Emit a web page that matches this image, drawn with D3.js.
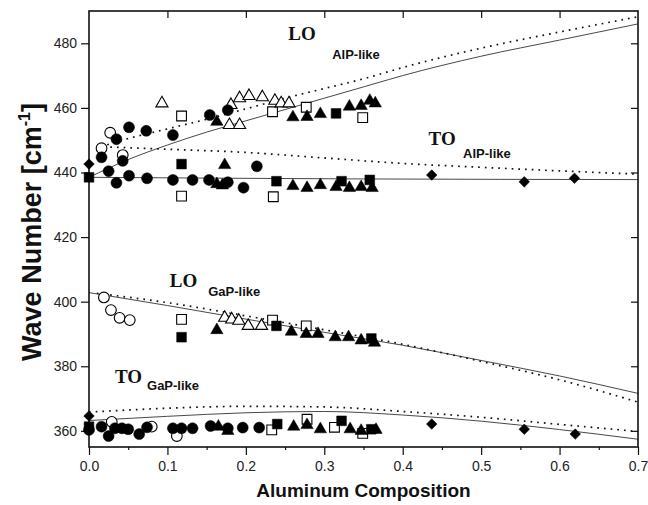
<!DOCTYPE html>
<html>
<head>
<meta charset="utf-8">
<script src="https://cdn.jsdelivr.net/npm/d3@7"></script>
<style>
  body { margin: 0; background: #fff; }
  text { font-family: "Liberation Sans", Arial, sans-serif; }
</style>
</head>
<body>
<div id="svg-container"></div>
<script>

// ---- data -------------------------------------------------------------
// every marker is [aluminum composition, wave number]

var filledCircles = [
    [0.016, 444.7], [0.025, 440.4], [0.035, 450.3], [0.043, 443.6], [0.051, 454.0],
    [0.073, 452.9], [0.107, 451.6], [0.154, 457.8], [0.177, 459.3],
    [0.035, 436.8], [0.051, 439.0], [0.074, 438.2], [0.107, 437.7], [0.132, 437.7],
    [0.153, 437.7], [0.177, 437.0], [0.197, 435.3], [0.214, 441.9],
    [0.000, 360.3], [0.016, 361.3], [0.025, 358.4], [0.033, 360.8], [0.042, 360.8],
    [0.050, 360.5], [0.064, 359.0], [0.074, 361.1], [0.107, 360.8], [0.118, 360.8],
    [0.132, 360.8], [0.155, 361.5], [0.177, 360.8], [0.196, 361.0], [0.217, 361.0]
];

var openCircles = [
    [0.027, 452.3], [0.016, 447.5], [0.043, 445.4],
    [0.019, 401.3], [0.028, 397.4], [0.039, 395.0], [0.052, 394.3],
    [0.029, 362.8], [0.080, 361.3], [0.112, 358.4]
];

var filledSquares = [
    [0.000, 438.5], [0.118, 442.6], [0.239, 437.3], [0.322, 437.3], [0.358, 437.7],
    [0.315, 458.3],
    [0.118, 389.0], [0.239, 392.5], [0.360, 388.6],
    [0.000, 361.3], [0.240, 362.1], [0.322, 363.1], [0.360, 360.5]
];

var openSquares = [
    [0.118, 457.5], [0.234, 458.8], [0.277, 460.2], [0.349, 457.0],
    [0.118, 432.7], [0.235, 432.5],
    [0.118, 394.5], [0.234, 394.3], [0.277, 392.5],
    [0.233, 360.3], [0.278, 363.6], [0.313, 361.1], [0.349, 359.2]
];

var filledTriangles = [
    [0.163, 455.7], [0.260, 457.1], [0.278, 457.2], [0.295, 458.1], [0.332, 460.4],
    [0.347, 460.6], [0.358, 462.2], [0.365, 461.4],
    [0.173, 442.3], [0.163, 436.4], [0.170, 436.0], [0.260, 435.8], [0.278, 435.2],
    [0.295, 436.1], [0.315, 435.5], [0.332, 435.2], [0.347, 435.5], [0.361, 435.2],
    [0.163, 391.2], [0.258, 390.7], [0.277, 390.0], [0.292, 390.0], [0.314, 389.0],
    [0.331, 389.0], [0.347, 388.0], [0.364, 387.3],
    [0.165, 361.3], [0.177, 360.0], [0.261, 361.3], [0.278, 361.8], [0.295, 360.5],
    [0.333, 360.5], [0.347, 360.0], [0.366, 360.3]
];

var openTriangles = [
    [0.093, 461.4], [0.181, 460.9], [0.192, 463.0], [0.204, 463.7], [0.221, 463.3],
    [0.237, 462.2], [0.245, 461.4], [0.255, 461.4], [0.179, 454.7], [0.192, 454.7],
    [0.173, 395.0], [0.182, 394.5], [0.191, 394.1], [0.203, 392.5], [0.220, 392.5]
];

var diamonds = [
    [0.000, 442.6], [0.437, 439.2], [0.555, 437.1], [0.619, 438.2],
    [0.000, 364.6], [0.437, 362.1], [0.555, 360.5], [0.620, 359.0]
];

// fitted curves (solid) and model curves (dotted)
var loAlpSolid = [[0, 438.5], [0.05, 444.0], [0.1, 448.5], [0.15, 452.5], [0.2, 456.0],
    [0.25, 459.5], [0.3, 463.0], [0.35, 466.5], [0.4, 470.0], [0.5, 476.0], [0.6, 481.0], [0.7, 486.0]];
var loAlpDotted = [[0.015, 448.0], [0.05, 450.5], [0.1, 453.5], [0.15, 456.5], [0.2, 459.7],
    [0.25, 463.0], [0.3, 466.0], [0.35, 469.0], [0.4, 472.5], [0.5, 478.5], [0.6, 483.5], [0.7, 488.2]];
var toAlpSolid = [[0, 438.5], [0.35, 438.0], [0.7, 437.8]];
var toAlpDotted = [[0.01, 448.0], [0.1, 447.2], [0.2, 446.2], [0.3, 444.5], [0.4, 442.8],
    [0.5, 441.6], [0.6, 440.5], [0.7, 439.5]];
var loGapSolid = [[0, 402.8], [0.1, 398.8], [0.2, 394.6], [0.3, 390.5], [0.4, 386.5],
    [0.5, 381.8], [0.6, 377.0], [0.7, 371.6]];
var loGapDotted = [[0.01, 402.6], [0.1, 399.7], [0.2, 395.6], [0.3, 391.3], [0.4, 386.8],
    [0.5, 381.5], [0.6, 375.8], [0.7, 368.9]];
var toGapSolid = [[0, 363.2], [0.1, 364.5], [0.2, 365.6], [0.3, 366.0], [0.4, 364.9],
    [0.5, 363.0], [0.6, 360.4], [0.7, 357.4]];
var toGapDotted = [[0, 365.8], [0.1, 367.0], [0.2, 367.6], [0.3, 367.4], [0.4, 366.0],
    [0.5, 364.2], [0.6, 362.0], [0.7, 359.8]];

var xTicks = [0, 0.1, 0.2, 0.3, 0.4, 0.5, 0.6, 0.7];
var xMinorTicks = [0.05, 0.15, 0.25, 0.35, 0.45, 0.55, 0.65];
var yTicks = [360, 380, 400, 420, 440, 460, 480];

// labels inside the plot: [text, x, y, kind]
var annotations = [
    ["LO", 0.254, 481.0, "mode"], ["AlP-like", 0.310, 475.1, "phase"],
    ["TO", 0.433, 448.5, "mode"], ["AlP-like", 0.477, 444.5, "phase"],
    ["LO", 0.103, 404.5, "mode"], ["GaP-like", 0.152, 401.8, "phase"],
    ["TO", 0.033, 374.8, "mode"], ["GaP-like", 0.074, 372.6, "phase"]
];

// ---- drawing ------------------------------------------------------------

var svgWidth = 648,
    svgHeight = 505;

var svg = d3.select("#svg-container").append("svg")
    .attr("width", svgWidth)
    .attr("height", svgHeight);

// (window.top is read only, so the frame edges get their own names)
var plotLeft = 89, plotRight = 638, plotTop = 11, plotBottom = 447;

var x = d3.scaleLinear().domain([0, 0.7]).range([plotLeft, plotRight]);
var y = d3.scaleLinear().domain([355, 490]).range([plotBottom, plotTop]);

// curves first so the markers sit on top
var line = d3.line()
    .x(function(d) { return x(d[0]); })
    .y(function(d) { return y(d[1]); })
    .curve(d3.curveMonotoneX);

[loAlpSolid, toAlpSolid, loGapSolid, toGapSolid].forEach(function(pts) {
    svg.append("path").attr("d", line(pts))
        .attr("fill", "none").attr("stroke", "#333").attr("stroke-width", 0.9);
});
[loAlpDotted, toAlpDotted, loGapDotted, toGapDotted].forEach(function(pts) {
    svg.append("path").attr("d", line(pts))
        .attr("fill", "none").attr("stroke", "#111").attr("stroke-width", 1.7)
        .attr("stroke-dasharray", "1.7,5");
});

// axes: outward ticks on left/bottom, inward mirror ticks on top/right
svg.append("g")
    .attr("transform", "translate(0," + plotBottom + ")")
    .call(d3.axisBottom(x).tickValues(xTicks).tickSize(8).tickFormat(d3.format(".1f")))
    .call(function(g) {
        g.select(".domain").remove();
        g.selectAll("text").attr("font-size", 14).attr("fill", "#222").attr("dy", "0.95em");
    });
svg.append("g")
    .attr("transform", "translate(0," + plotBottom + ")")
    .call(d3.axisBottom(x).tickValues(xMinorTicks).tickSize(3).tickFormat(""))
    .call(function(g) { g.select(".domain").remove(); });
svg.append("g")
    .attr("transform", "translate(0," + plotTop + ")")
    .call(d3.axisBottom(x).tickValues(xTicks.slice(1, -1)).tickSize(7).tickFormat(""))
    .call(function(g) { g.select(".domain").remove(); });

svg.append("g")
    .attr("transform", "translate(" + plotLeft + ",0)")
    .call(d3.axisLeft(y).tickValues(yTicks).tickSize(8).tickPadding(4))
    .call(function(g) {
        g.select(".domain").remove();
        g.selectAll("text").attr("font-size", 14).attr("fill", "#222");
    });
svg.append("g")
    .attr("transform", "translate(" + plotRight + ",0)")
    .call(d3.axisLeft(y).tickValues(yTicks).tickSize(7).tickFormat(""))
    .call(function(g) { g.select(".domain").remove(); });

svg.selectAll(".tick line").attr("stroke", "#111").attr("stroke-width", 1.2);

svg.append("rect") // the frame
    .attr("x", plotLeft).attr("y", plotTop)
    .attr("width", plotRight - plotLeft).attr("height", plotBottom - plotTop)
    .attr("fill", "none").attr("stroke", "#111").attr("stroke-width", 1.6);

// markers
function drawMarkers(points, type, size, filled, rotate) {
    svg.append("g").selectAll("path")
        .data(points)
        .enter().append("path")
        .attr("d", d3.symbol().type(type).size(size))
        .attr("transform", function(d) {
            return "translate(" + x(d[0]) + "," + y(d[1]) + ")" + (rotate ? " rotate(45)" : "");
        })
        .attr("fill", filled ? "#000" : "#fff")
        .attr("stroke", "#000")
        .attr("stroke-width", filled ? 0.5 : 1.1);
}

drawMarkers(openCircles, d3.symbolCircle, 90, false);
drawMarkers(openSquares, d3.symbolSquare, 95, false);
drawMarkers(openTriangles, d3.symbolTriangle, 64, false);
drawMarkers(filledCircles, d3.symbolCircle, 95, true);
drawMarkers(filledSquares, d3.symbolSquare, 95, true);
drawMarkers(filledTriangles, d3.symbolTriangle, 66, true);
drawMarkers(diamonds, d3.symbolSquare, 56, true, true);

// labels of the phonon branches (style, so the css font rule does not win)
svg.append("g").selectAll("text")
    .data(annotations)
    .enter().append("text")
    .attr("x", function(d) { return x(d[1]); })
    .attr("y", function(d) { return y(d[2]); })
    .style("font-family", function(d) { return d[3] === "mode" ? "'Liberation Serif', 'Times New Roman', serif" : null; })
    .attr("font-size", function(d) { return d[3] === "mode" ? 19 : 13; })
    .attr("font-weight", "bold")
    .attr("fill", "#111")
    .text(function(d) { return d[0]; });

// axis titles
svg.append("text")
    .attr("x", (plotLeft + plotRight) / 2)
    .attr("y", 497)
    .attr("text-anchor", "middle")
    .attr("font-size", 19)
    .attr("font-weight", "bold")
    .attr("fill", "#111")
    .text("Aluminum Composition");

var yTitle = svg.append("text")
    .attr("transform", "translate(41," + 232 + ") rotate(-90)")
    .attr("text-anchor", "middle")
    .attr("font-size", 27)
    .attr("font-weight", "bold")
    .attr("fill", "#111");
yTitle.append("tspan").text("Wave Number [cm");
yTitle.append("tspan").attr("font-size", 16).attr("dy", -11).text("-1");
yTitle.append("tspan").attr("dy", 11).text("]");

</script>
</body>
</html>
